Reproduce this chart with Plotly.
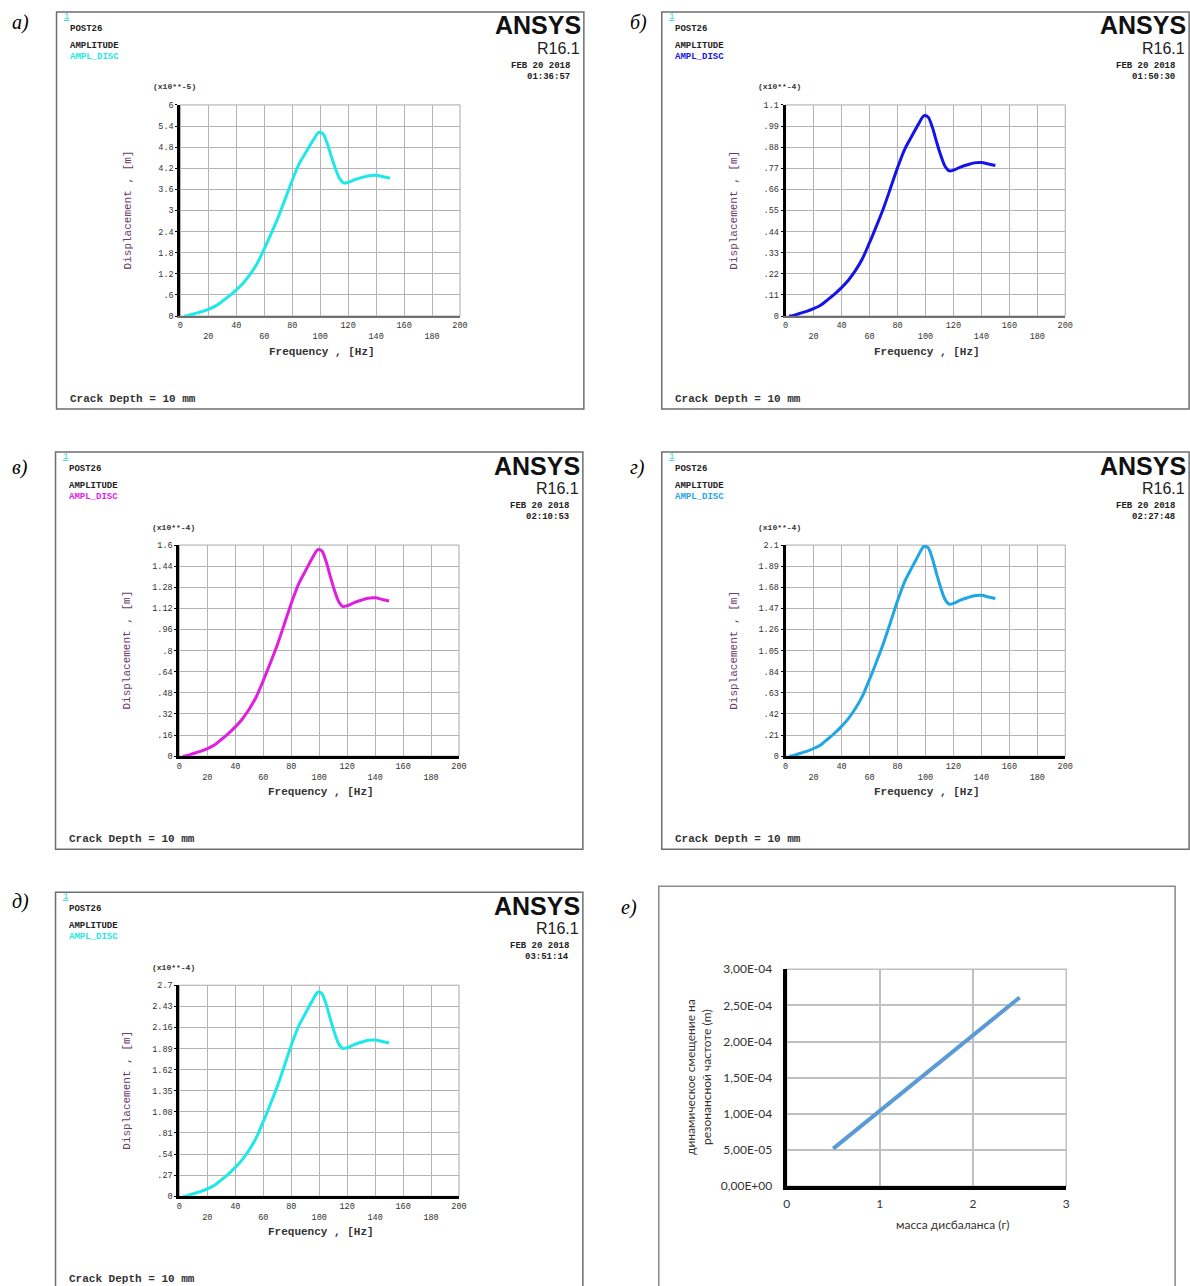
import plotly.graph_objects as go

W, H = 1190, 1286

# ---- harmonic response data (frequency sweep, amplitude of disc displacement) ----
freq_hz = [2.5, 5, 10, 15, 20, 25, 30, 35, 40, 45, 50, 55, 60, 65, 70, 75, 80, 85,
           90, 95, 99, 102, 105, 108, 111, 114, 117, 120, 125, 130, 135, 140, 145, 150]

# x10**-5 m
disp_a = [0, 0.01, 0.065, 0.12, 0.19, 0.28, 0.42, 0.57, 0.74, 0.94, 1.19, 1.50, 1.91,
          2.35, 2.81, 3.33, 3.86, 4.33, 4.67, 5.00, 5.22, 5.18, 4.91, 4.53, 4.18, 3.90,
          3.78, 3.80, 3.88, 3.94, 3.99, 4.00, 3.96, 3.92]
# x10**-4 m
disp_b = [0, 0.002, 0.013, 0.024, 0.038, 0.056, 0.084, 0.114, 0.148, 0.188, 0.238,
          0.30, 0.382, 0.47, 0.562, 0.666, 0.772, 0.866, 0.934, 1.0, 1.044, 1.036,
          0.982, 0.906, 0.836, 0.78, 0.756, 0.76, 0.776, 0.788, 0.798, 0.80, 0.792, 0.784]
disp_c = [0, 0.003, 0.02, 0.036, 0.057, 0.084, 0.126, 0.171, 0.222, 0.282, 0.357,
          0.45, 0.573, 0.705, 0.843, 0.999, 1.158, 1.299, 1.401, 1.5, 1.566, 1.554,
          1.473, 1.359, 1.254, 1.17, 1.134, 1.14, 1.164, 1.182, 1.197, 1.2, 1.188, 1.176]
disp_d = [0, 0.004, 0.026, 0.048, 0.076, 0.112, 0.168, 0.228, 0.296, 0.376, 0.476,
          0.6, 0.764, 0.94, 1.124, 1.332, 1.544, 1.732, 1.868, 2.0, 2.088, 2.072,
          1.964, 1.812, 1.672, 1.56, 1.512, 1.52, 1.552, 1.576, 1.596, 1.6, 1.584, 1.568]
disp_e = [0, 0.005, 0.033, 0.06, 0.095, 0.14, 0.21, 0.285, 0.37, 0.47, 0.595,
          0.75, 0.955, 1.175, 1.405, 1.665, 1.93, 2.165, 2.335, 2.5, 2.61, 2.59,
          2.455, 2.265, 2.09, 1.95, 1.89, 1.9, 1.94, 1.97, 1.995, 2.0, 1.98, 1.96]

x_ticks = [0, 20, 40, 60, 80, 100, 120, 140, 160, 180, 200]

y_labels_a = ["0", ".6", "1.2", "1.8", "2.4", "3", "3.6", "4.2", "4.8", "5.4", "6"]
y_labels_b = ["0", ".11", ".22", ".33", ".44", ".55", ".66", ".77", ".88", ".99", "1.1"]
y_labels_c = ["0", ".16", ".32", ".48", ".64", ".8", ".96", "1.12", "1.28", "1.44", "1.6"]
y_labels_d = ["0", ".21", ".42", ".63", ".84", "1.05", "1.26", "1.47", "1.68", "1.89", "2.1"]
y_labels_e = ["0", ".27", ".54", ".81", "1.08", "1.35", "1.62", "1.89", "2.16", "2.43", "2.7"]

# ---- resonance amplitude vs unbalance mass ----
unbalance_mass_g = [0.5, 1.0, 1.5, 2.0, 2.5]
resonant_disp_m = [5.2e-5, 1.04e-4, 1.56e-4, 2.08e-4, 2.61e-4]
res_y_ticks = [0, 5e-5, 1e-4, 1.5e-4, 2e-4, 2.5e-4, 3e-4]
res_y_labels = ["0,00E+00", "5,00E-05", "1,00E-04", "1,50E-04", "2,00E-04", "2,50E-04", "3,00E-04"]
res_x_ticks = [0, 1, 2, 3]

# page inset of the displayed document (offset and scale of the sheet)
OX, SX = 2.4, 0.992
OY, SY = 7.1, 0.988


def px(x):
    return ((x - OX) / SX) / W


def py(y):
    return 1 - ((y - OY) / SY) / H


MONO = "Liberation Mono, Courier New, monospace"
SANS = "Liberation Sans, Arial, sans-serif"
SERIF = "Liberation Serif, Times New Roman, serif"
XL = "Lato, Open Sans, sans-serif"

panels = [
    dict(tag="а)", box=(56, 11), color="#1ee8e8", y=disp_a, ymax=6.0, labels=y_labels_a,
         scale="(x10**-5)", time="01:36:57", base="#707070", basew=1.5),
    dict(tag="б)", box=(662, 11), color="#1414e6", y=disp_b, ymax=1.1, labels=y_labels_b,
         scale="(x10**-4)", time="01:50:30", base="#707070", basew=1.5),
    dict(tag="в)", box=(55, 451), color="#e01ee0", y=disp_c, ymax=1.6, labels=y_labels_c,
         scale="(x10**-4)", time="02:10:53", base="#000000", basew=2.5),
    dict(tag="г)", box=(662, 451), color="#1ea6e6", y=disp_d, ymax=2.1, labels=y_labels_d,
         scale="(x10**-4)", time="02:27:48", base="#000000", basew=2.5),
    dict(tag="д)", box=(55, 891), color="#1ee8e8", y=disp_e, ymax=2.7, labels=y_labels_e,
         scale="(x10**-4)", time="03:51:14", base="#000000", basew=2.5),
]
tag_pos = [(9, 22), (628, 22), (9, 466), (628, 466), (9, 900)]

fig = go.Figure()
annotations = []
shapes = []
layout_axes = {}

BOX_W, BOX_H = 528, 397
PL, PR, PT, PB = 124, 404, 93, 304


def txt(x, y, s, size=9, color="#222222", xanchor="left", family=MONO, bold=True, angle=0):
    annotations.append(dict(
        x=px(x), y=py(y), xref="paper", yref="paper",
        text=("<b>%s</b>" % s) if bold else s,
        showarrow=False, xanchor=xanchor, yanchor="middle", textangle=angle,
        font=dict(family=family, size=size, color=color)))


for i, p in enumerate(panels):
    n = i + 1
    bx, by = p["box"]
    xa = "x" if n == 1 else f"x{n}"
    ya = "y" if n == 1 else f"y{n}"
    fig.add_trace(go.Scatter(
        x=freq_hz, y=p["y"], mode="lines", xaxis=xa, yaxis=ya,
        line=dict(color=p["color"], width=3, shape="spline", smoothing=0.8),
        showlegend=False, hoverinfo="skip"))

    step = p["ymax"] / 10
    layout_axes["xaxis" if n == 1 else f"xaxis{n}"] = dict(
        domain=[px(bx + PL), px(bx + PR)], anchor=ya, range=[0, 200],
        tickvals=x_ticks,
        ticktext=[str(v) if k % 2 == 0 else "<br>" + str(v) for k, v in enumerate(x_ticks)],
        showgrid=True, gridcolor="#b4b4b4", gridwidth=1, zeroline=False,
        showline=True, linecolor=p["base"], linewidth=p["basew"],
        ticks="", tickfont=dict(family=MONO, size=8.5, color="#333333"),
        fixedrange=True)
    layout_axes["yaxis" if n == 1 else f"yaxis{n}"] = dict(
        domain=[py(by + PB), py(by + PT)], anchor=xa, range=[0, p["ymax"]],
        tickvals=[step * k for k in range(11)], ticktext=p["labels"],
        showgrid=True, gridcolor="#b4b4b4", gridwidth=1, zeroline=False,
        showline=True, linecolor="#000000", linewidth=3,
        ticks="outside", ticklen=2, tickcolor="#000000",
        tickfont=dict(family=MONO, size=8.5, color="#333333"),
        fixedrange=True)

    # plot frame (top/right edges)
    shapes.append(dict(type="rect", xref=f"{xa} domain", yref=f"{ya} domain",
                       x0=0, x1=1, y0=0, y1=1, line=dict(color="#a8a8a8", width=1),
                       layer="below"))
    # panel border
    shapes.append(dict(type="rect", xref="paper", yref="paper",
                       x0=px(bx), x1=px(bx + BOX_W), y0=py(by + BOX_H), y1=py(by),
                       line=dict(color="#6e6e6e", width=1.5)))

    txt(bx + 5, by + 5, "<u>1</u>", size=9, color="#33dddd", bold=False)
    txt(bx + 11, by + 17, "POST26")
    txt(bx + 11, by + 34, "AMPLITUDE")
    txt(bx + 11, by + 45, "AMPL_DISC", color=p["color"])
    txt(bx + 527, by + 13.5, "ANSYS", size=25, color="#111111", xanchor="right",
        family=SANS, bold=True)
    txt(bx + 526, by + 36.5, "R16.1", size=16, color="#222222", xanchor="right",
        family=SANS, bold=False)
    txt(bx + 516, by + 54, "FEB 20 2018", xanchor="right")
    txt(bx + 516, by + 65, p["time"], xanchor="right")
    txt(bx + 118, by + 75, p["scale"], size=8, color="#333333", xanchor="center")
    txt(bx + 266, by + 340, "Frequency , [Hz]", size=11, color="#333333", xanchor="center")
    txt(bx + 72, by + 198, "Displacement , [m]", size=11, color="#6e3a68",
        xanchor="center", angle=-90, bold=False)
    txt(bx + 11, by + 387, "Crack Depth = 10 mm", size=11, color="#333333")

    tx, ty = tag_pos[i]
    txt(tx, ty, "<i>%s</i>" % p["tag"], size=20, color="#000000", family=SERIF, bold=False)

# ---- panel е: resonance amplitude vs unbalance mass ----
fig.add_trace(go.Scatter(
    x=unbalance_mass_g, y=resonant_disp_m, mode="lines", xaxis="x6", yaxis="y6",
    line=dict(color="#5b9bd5", width=4), showlegend=False, hoverinfo="skip"))

layout_axes["xaxis6"] = dict(
    domain=[px(787), px(1067)], anchor="y6", range=[0, 3], tickvals=res_x_ticks,
    showgrid=True, gridcolor="#c0c0c0", gridwidth=1.5, zeroline=False,
    showline=True, linecolor="#000000", linewidth=4, ticks="", ticklabelstandoff=3,
    tickfont=dict(family=XL, size=12, color="#333333"),
    fixedrange=True)
layout_axes["yaxis6"] = dict(
    domain=[py(1185), py(968)], anchor="x6", range=[0, 3e-4],
    tickvals=res_y_ticks, ticktext=res_y_labels,
    showgrid=True, gridcolor="#c0c0c0", gridwidth=1.5, zeroline=False,
    showline=True, linecolor="#000000", linewidth=4, ticks="", ticklabelstandoff=8,
    tickfont=dict(family=XL, size=12, color="#333333"),
    fixedrange=True)
shapes.append(dict(type="rect", xref="x6 domain", yref="y6 domain",
                   x0=0, x1=1, y0=0, y1=1, line=dict(color="#c0c0c0", width=1.5),
                   layer="below"))
shapes.append(dict(type="rect", xref="paper", yref="paper",
                   x0=px(659), x1=px(1176), y0=py(1296), y1=py(885),
                   line=dict(color="#8a8a8a", width=1.5)))
txt(953, 1223, "масса дисбаланса (г)", size=12, color="#333333", xanchor="center",
    family=XL, bold=False)
txt(699, 1076, "динамическое смещение на<br>резонансной частоте (m)", size=12,
    color="#333333", xanchor="center", family=XL, bold=False, angle=-90)
txt(619, 906, "<i>е)</i>", size=20, color="#000000", family=SERIF, bold=False)

fig.update_layout(
    width=W, height=H, margin=dict(l=0, r=0, t=0, b=0),
    paper_bgcolor="#ffffff", plot_bgcolor="#ffffff",
    annotations=annotations, shapes=shapes, **layout_axes)

fig.write_html("out.html")
